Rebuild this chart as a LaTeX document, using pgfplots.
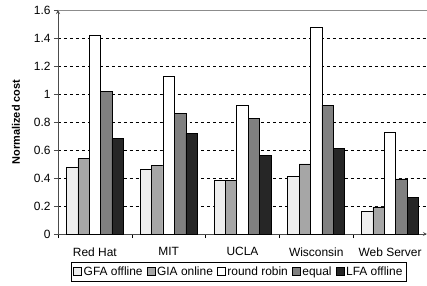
\documentclass[border=0pt]{standalone}
\usepackage{pgfplots}
\pgfplotsset{compat=1.18}
\usepackage{fontspec}
\setmainfont{Liberation Sans}
\definecolor{cGFA}{HTML}{EEEEEE}
\definecolor{cGIA}{HTML}{A6A6A6}
\definecolor{cRR}{HTML}{FFFFFF}
\definecolor{cEQ}{HTML}{808080}
\definecolor{cLFA}{HTML}{262626}
\begin{document}
\begin{tikzpicture}
\begin{axis}[
  at={(0,0)}, anchor=south west,
  scale only axis, width=369bp, height=224bp,
  clip=false,
  ybar=0pt, bar width=11.4bp,
  xmin=-0.5, xmax=4.5, ymin=0, ymax=1.6,
  axis x line=bottom, axis y line=left,
  axis line style={line width=0.8pt, black!70},
  xtick={0,1,2,3,4},
  xticklabels={Red Hat, MIT, UCLA, Wisconsin, Web Server},
  major x tick style={draw=none},
  minor xtick={-0.5,0.5,1.5,2.5,3.5,4.5},
  minor x tick style={black, line width=0.6pt},
  minor tick length=4bp,
  xtick align=outside,
  ytick={0,0.2,0.4,0.6,0.8,1,1.2,1.4},
  extra y ticks={1.6},
  extra y tick style={grid style={black!45, solid, line width=0.6pt}},
  ytick align=outside, major tick length=4bp,
  y tick style={black!70, line width=0.6pt},
  ymajorgrids, grid style={black, dashed, line width=0.4pt},
  yticklabel style={/pgf/number format/fixed, /pgf/number format/precision=1, /pgf/number format/assume math mode=true},
  tick label style={font=\fontsize{12}{14}\selectfont},
  xticklabel style={yshift=-6bp},
  ylabel={\bfseries Normalized cost},
  ylabel style={font=\fontsize{11}{13}\selectfont, yshift=-1bp},
  every axis plot/.append style={draw=black, line width=0.6pt},
  legend style={at={(0.49,-0.125)}, anchor=north, legend columns=5, draw=black, line width=0.6pt,
    font=\fontsize{12}{14}\selectfont, inner sep=2.2bp, row sep=0pt,
    /tikz/every even column/.style={column sep=2bp}},
  legend image code/.code={\draw[#1, line width=0.5pt] (0bp,-4bp) rectangle (8bp,4bp);},
]
\addplot[fill=cGFA] coordinates {(0,0.479) (1,0.459) (2,0.381) (3,0.414) (4,0.159)};
\addplot[fill=cGIA] coordinates {(0,0.538) (1,0.490) (2,0.381) (3,0.500) (4,0.193)};
\addplot[fill=cRR] coordinates {(0,1.416) (1,1.126) (2,0.916) (3,1.476) (4,0.729)};
\addplot[fill=cEQ] coordinates {(0,1.019) (1,0.864) (2,0.824) (3,0.921) (4,0.393)};
\addplot[fill=cLFA] coordinates {(0,0.681) (1,0.719) (2,0.561) (3,0.614) (4,0.264)};
\legend{GFA offline, GIA online, round robin, equal, LFA offline}
\end{axis}
\pgfresetboundingbox
\path[use as bounding box] (-58bp,-52bp) rectangle (369bp,234bp);
\end{tikzpicture}
\end{document}
